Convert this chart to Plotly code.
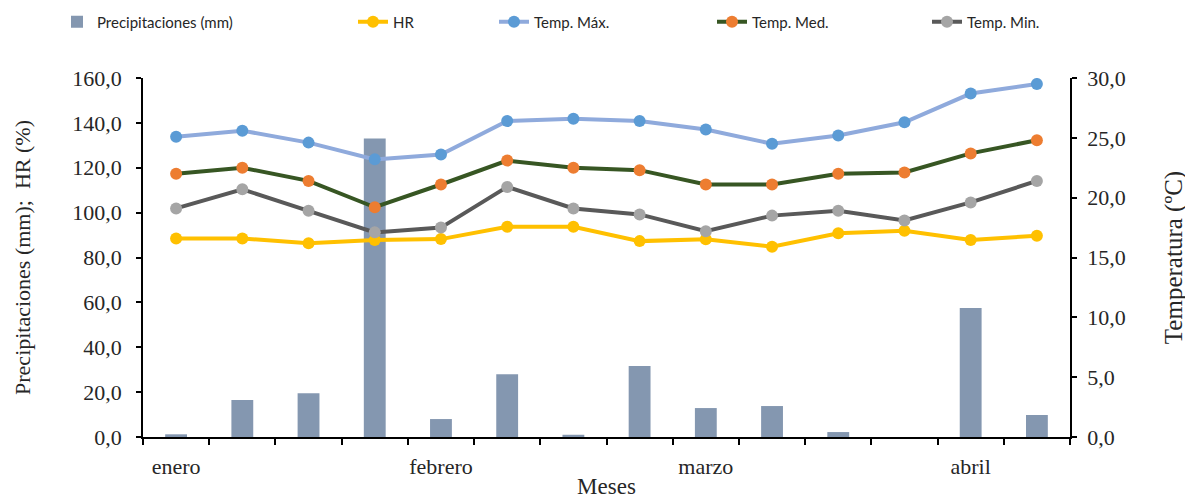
import plotly.graph_objects as go

weeks = list(range(14))
month_pos = [0, 4, 8, 12]
month_labels = ["enero", "febrero", "marzo", "abril"]

precip = [1.2, 16.5, 19.5, 133.0, 8.0, 28.0, 1.0, 31.6, 12.9, 13.8, 2.2, 0.0, 57.5, 9.8]
hr = [88.5, 88.5, 86.3, 87.8, 88.2, 93.7, 93.7, 87.3, 88.1, 84.8, 90.8, 91.9, 87.8, 89.7]
t_max = [25.1, 25.6, 24.6, 23.2, 23.6, 26.4, 26.6, 26.4, 25.7, 24.5, 25.2, 26.3, 28.7, 29.5]
t_med = [22.0, 22.5, 21.4, 19.2, 21.1, 23.1, 22.5, 22.3, 21.1, 21.1, 22.0, 22.1, 23.7, 24.8]
t_min = [19.1, 20.7, 18.9, 17.1, 17.5, 20.9, 19.1, 18.6, 17.2, 18.5, 18.9, 18.1, 19.6, 21.4]

fig = go.Figure()
fig.add_trace(go.Bar(x=weeks, y=precip, name="Precipitaciones (mm)", width=0.33,
                     marker=dict(color="#8497B0", line=dict(width=0)), legend="legend"))
fig.add_trace(go.Scatter(x=weeks, y=hr, name="HR", mode="lines+markers",
                         line=dict(color="#FFC000", width=4), marker=dict(color="#FFC000", size=12),
                         legend="legend2"))
fig.add_trace(go.Scatter(x=weeks, y=t_max, name="Temp. Máx.", mode="lines+markers", yaxis="y2",
                         line=dict(color="#8FAADC", width=4), marker=dict(color="#5B9BD5", size=12),
                         legend="legend3"))
fig.add_trace(go.Scatter(x=weeks, y=t_med, name="Temp. Med.", mode="lines+markers", yaxis="y2",
                         line=dict(color="#375623", width=4), marker=dict(color="#ED7D31", size=12),
                         legend="legend4"))
fig.add_trace(go.Scatter(x=weeks, y=t_min, name="Temp. Min.", mode="lines+markers", yaxis="y2",
                         line=dict(color="#595959", width=4), marker=dict(color="#A5A5A5", size=12),
                         legend="legend5"))

serif = "Liberation Serif, Times New Roman, serif"
tickfont = dict(family=serif, size=22, color="#262626")

def leg(px):
    return dict(x=(px - 143) / 927, y=(437 - 22) / 359, xanchor="left", yanchor="middle",
                orientation="h", bgcolor="rgba(0,0,0,0)",
                font=dict(family="Lato", size=15, color="#262626"))

# page body has an 8px margin, so the figure is sized/offset to compensate
fig.update_layout(
    width=1185, height=491,
    margin=dict(l=135, r=123, t=70, b=62, autoexpand=False),
    plot_bgcolor="white", paper_bgcolor="white",
    separators=",.",
    font=dict(family=serif, color="#262626"),
    showlegend=True,
    legend=leg(57), legend2=leg(353), legend3=leg(494), legend4=leg(712), legend5=leg(927),
    xaxis=dict(range=[-0.5, 13.5], tickvals=month_pos, ticktext=month_labels,
               ticks="", ticklabelstandoff=9, tickfont=tickfont,
               showline=True, linecolor="black", linewidth=1.5, showgrid=False, zeroline=False,
               minor=dict(tickmode="linear", tick0=-0.5, dtick=1, ticks="outside",
                          ticklen=6, tickcolor="black", tickwidth=1.5, showgrid=False),
               title=dict(text="Meses", font=dict(family=serif, size=23, color="#262626"), standoff=0)),
    yaxis=dict(range=[0, 160], dtick=20, tickformat=".1f", ticks="outside", ticklen=5,
               tickcolor="black", tickwidth=1.5, tickfont=tickfont, ticklabelstandoff=10,
               showline=True, linecolor="black", linewidth=1.5, showgrid=False, zeroline=False,
               title=dict(text="Precipitaciones (mm);  HR (%)",
                          font=dict(family=serif, size=22, color="#262626"), standoff=36)),
    yaxis2=dict(range=[0, 30], dtick=5, tickformat=".1f", overlaying="y", side="right",
                ticks="outside", ticklen=5, tickcolor="black", tickwidth=1.5, tickfont=tickfont,
                ticklabelstandoff=6,
                showline=True, linecolor="black", linewidth=1.5, showgrid=False, zeroline=False,
                title=dict(text="Temperatura (ºC)",
                           font=dict(family=serif, size=25, color="#262626"), standoff=40)),
)

fig.write_html("out.html")
